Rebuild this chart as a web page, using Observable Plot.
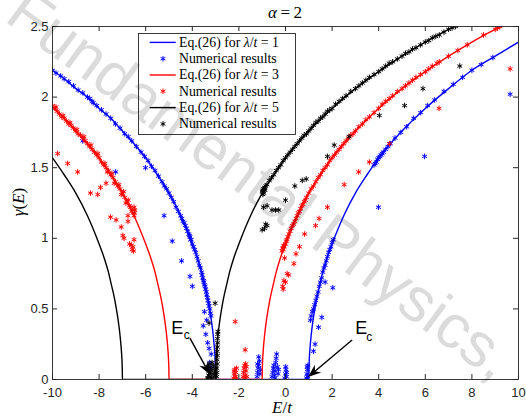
<!DOCTYPE html>
<html><head><meta charset="utf-8">
<script src="https://cdn.jsdelivr.net/npm/d3@7"></script>
<script src="https://cdn.jsdelivr.net/npm/@observablehq/plot@0.6"></script>
<style>
body{margin:0;background:#fff;}
#wrap{position:relative;width:526px;height:418px;overflow:hidden;background:#fff;}
.ov{position:absolute;white-space:nowrap;color:#000;}
.serif{font-family:"Liberation Serif","DejaVu Serif",serif;}
#wm{position:absolute;left:261px;top:184px;transform:translate(-50%,-50%) rotate(36.4deg);font-family:"Liberation Sans",Arial,sans-serif;font-size:62px;line-height:62px;color:rgba(0,0,0,0.14);white-space:nowrap;pointer-events:none;}
</style></head><body><div id="wrap"></div><script>
// ---- tick definitions ----
const xTicks = [-10, -8, -6, -4, -2, 0, 2, 4, 6, 8, 10];
const xTickLabels = ["-10", "-8", "-6", "-4", "-2", "0", "2", "4", "6", "8", "10"];
const yTicks = [0, 0.5, 1, 1.5, 2, 2.5];
const yTickLabels = ["0", "0.5", "1", "1.5", "2", "2.5"];

// ---- Eq.(26) curves [E/t, gamma] ----
const theoryL1 = [[-10,2.19],[-9.5,2.13],[-9,2.06],[-8.5,2.0],[-8,1.92],[-7.5,1.85],[-7,1.76],[-6.5,1.67],[-6,1.57],[-5.5,1.45],[-5,1.32],[-4.5,1.16],[-4,0.96],[-3.8,0.87],[-3.6,0.76],[-3.5,0.69],[-3.4,0.62],[-3.3,0.54],[-3.2,0.44],[-3.15,0.38],[-3.1,0.31],[-3.05,0.22],[-3.02,0.14],[-3.005,0.07],[-3,0],[1,0],[1.005,0.07],[1.02,0.14],[1.05,0.22],[1.1,0.31],[1.15,0.38],[1.2,0.44],[1.3,0.54],[1.4,0.62],[1.5,0.69],[1.6,0.76],[1.8,0.87],[2,0.96],[2.5,1.16],[3,1.32],[3.5,1.45],[4,1.57],[5,1.76],[6,1.92],[7,2.06],[8,2.19],[9,2.29],[10,2.39]];
const theoryL3 = [[-10,1.93],[-9.5,1.85],[-9,1.76],[-8.5,1.67],[-8,1.57],[-7.5,1.45],[-7,1.32],[-6.5,1.16],[-6,0.96],[-5.8,0.87],[-5.6,0.76],[-5.5,0.69],[-5.4,0.62],[-5.3,0.54],[-5.2,0.44],[-5.15,0.38],[-5.1,0.31],[-5.05,0.22],[-5.02,0.14],[-5.005,0.07],[-5,0],[-1,0],[-0.995,0.07],[-0.98,0.14],[-0.95,0.22],[-0.9,0.31],[-0.85,0.38],[-0.8,0.44],[-0.7,0.54],[-0.6,0.62],[-0.5,0.69],[-0.4,0.76],[-0.2,0.87],[0,0.96],[0.5,1.16],[1,1.32],[1.5,1.45],[2,1.57],[3,1.76],[4,1.92],[5,2.06],[6,2.18],[7,2.29],[8,2.39],[9,2.48],[9.5,2.52]];
const theoryL5 = [[-10,1.57],[-9.5,1.45],[-9,1.32],[-8.5,1.16],[-8,0.96],[-7.8,0.87],[-7.6,0.76],[-7.5,0.69],[-7.4,0.62],[-7.3,0.54],[-7.2,0.44],[-7.15,0.38],[-7.1,0.31],[-7.05,0.22],[-7.02,0.14],[-7.005,0.07],[-7,0],[-3,0],[-2.995,0.07],[-2.98,0.14],[-2.95,0.22],[-2.9,0.31],[-2.85,0.38],[-2.8,0.44],[-2.7,0.54],[-2.6,0.62],[-2.5,0.69],[-2.4,0.76],[-2.2,0.87],[-2,0.96],[-1.5,1.16],[-1,1.32],[-0.5,1.45],[0,1.57],[1,1.76],[2,1.92],[3,2.06],[4,2.18],[5,2.29],[6,2.39],[7,2.48],[7.5,2.52]];

// ---- numerical results [E/t, gamma] ----
const numL1 = [
[-10,2.19],[-9.85,2.17],[-9.65,2.15],[-9.5,2.13],[-9.3,2.11],[-9.1,2.08],[-8.9,2.05],[-8.7,2.03],[-8.5,2.0],[-8.4,1.99],[-8.3,1.97],[-8.25,1.96],[-8.1,1.94],[-7.9,1.91],[-7.7,1.88],[-7.5,1.85],[-7.3,1.81],[-7.1,1.78],[-6.9,1.74],[-6.75,1.72],[-6.6,1.69],[-6.4,1.65],[-6.2,1.61],[-6.05,1.58],[-5.9,1.55],[-5.75,1.51],[-5.6,1.48],[-5.45,1.44],[-5.3,1.40],[-5.2,1.37],[-5.1,1.35],[-5.0,1.32],[-4.9,1.29],[-4.8,1.26],[-4.7,1.22],[-4.6,1.19],[-4.5,1.16],[-4.45,1.14],[-4.4,1.12],[-4.35,1.11],[-4.3,1.09],[-4.25,1.07],[-4.2,1.05],[-4.15,1.03],[-4.12,1.02],[-4.1,1.01],[-4.07,0.99],[-4.05,0.99],[-4.0,0.96],[-3.95,0.94],[-3.9,0.92],[-3.85,0.90],[-3.8,0.87],[-3.75,0.84],[-3.7,0.81],[-3.65,0.79],[-3.6,0.76],[-3.58,0.74],[-3.55,0.72],[-3.52,0.70],[-3.5,0.69],[-3.48,0.67],[-3.45,0.66],[-3.43,0.64],[-3.4,0.62],[-3.38,0.60],[-3.35,0.58],[-3.33,0.56],[-3.3,0.54],[-3.28,0.52],[-3.25,0.50],[-3.22,0.47],[-3.2,0.45],
[-8.70,1.69],[-7.29,1.47],[-6.01,1.50],[-5.21,1.16],[-4.86,0.98],[-4.46,0.84],[-4.10,0.73],[-4.0,0.66],[-3.48,0.48],[-3.53,0.38],[-3.38,0.42],[-3.42,0.32],[-3.34,0.26],[-3.28,0.22],[-3.19,0.18],[-3.25,0.12],[-3.2,0.08],
[-1.22,0.02],[-1.2,0.05],[-1.18,0.08],[-1.15,0.1],[-1.12,0.13],[-1.15,0.16],[-1.1,0.04],[-1.08,0.07],[-1.2,0.11],
[-0.58,0.02],[-0.55,0.05],[-0.52,0.08],[-0.5,0.1],[-0.48,0.03],[-0.45,0.06],[-0.42,0.12],[-0.4,0.15],[-0.38,0.18],[-0.35,0.09],[-0.32,0.04],[-0.3,0.07],[-0.45,0.01],
[-0.03,0.01],[0,0.04],[0.02,0.07],[0.04,0.02],[0.01,0.09],[0.05,0.05],
[0.9,0.01],[0.92,0.04],[0.94,0.07],[0.96,0.1],[0.95,0.02],[0.93,0.09],
[1.07,0.42],[1.1,0.45],[1.15,0.48],[1.2,0.5],[1.25,0.53],[1.3,0.56],[1.35,0.59],[1.4,0.62],[1.45,0.66],[1.5,0.69],[1.55,0.72],[1.6,0.76],[1.65,0.79],[1.7,0.81],[1.75,0.84],[1.8,0.87],[1.85,0.90],[1.9,0.92],[1.95,0.94],[2.0,0.97],[2.05,0.99],
[1.2,0.2],[1.27,0.25],[1.42,0.37],[1.56,0.44],[1.70,0.69],[2.03,0.65],[3.99,1.22],[5.97,1.58],[9.64,2.02],
[3.8,1.52],[3.85,1.53],[3.9,1.54],[3.95,1.56],[4.0,1.57],[4.05,1.58],[4.1,1.59],[4.15,1.60],[4.2,1.61],[4.3,1.63],[4.4,1.65],[4.5,1.67],[4.7,1.71],[4.95,1.75],[5.2,1.79],[5.5,1.85],[5.8,1.89],[6.1,1.94],[6.4,1.98],[6.8,2.04],[7.2,2.09],[7.6,2.14],[8.0,2.19],[8.4,2.23],[8.9,2.28]
];
const numL3 = [
[-10,1.94],[-9.9,1.92],[-9.8,1.90],[-9.7,1.88],[-9.6,1.86],[-9.5,1.85],[-9.4,1.83],[-9.3,1.81],[-9.2,1.80],[-9.1,1.78],[-9.0,1.76],[-8.9,1.74],[-8.8,1.73],[-8.7,1.71],[-8.6,1.69],[-8.5,1.67],[-8.4,1.65],[-8.3,1.63],[-8.2,1.61],[-8.1,1.59],[-8.0,1.57],[-7.9,1.54],[-7.8,1.52],[-7.7,1.50],[-7.6,1.48],[-7.5,1.45],[-7.4,1.43],[-7.3,1.40],[-7.2,1.37],[-7.1,1.35],[-7.0,1.32],[-6.9,1.29],[-6.8,1.26],[-6.7,1.23],[-6.6,1.19],[-6.5,1.16],[-6.47,1.2],
[-9.85,1.93],[-9.55,1.87],[-9.25,1.82],[-8.95,1.77],[-8.65,1.72],[-8.35,1.66],[-8.05,1.60],[-7.75,1.53],[-7.65,1.47],[-7.45,1.46],[-7.35,1.39],[-7.15,1.38],[-7.05,1.31],[-6.95,1.33],[-6.85,1.25],[-6.75,1.27],[-6.65,1.22],[-6.55,1.2],[-6.5,1.22],[-6.48,1.18],
[-9.78,1.60],[-9.35,1.53],[-8.92,1.47],[-8.37,1.32],[-8.06,1.31],[-7.94,1.36],[-7.70,1.39],[-7.51,1.15],[-7.27,1.13],[-7.05,1.08],[-6.76,1.16],[-6.76,1.12],[-6.98,1.02],[-6.93,1.0],[-6.69,0.96],[-6.55,0.94],[-6.5,0.99],[-6.58,0.92],[-6.62,0.95],[-6.52,0.91],
[-2.16,0.41],[-1.73,0.21],
[-2.22,0.01],[-2.2,0.04],[-2.18,0.07],[-2.15,0.02],[-2.13,0.05],[-2.1,0.08],[-2.12,0.01],[-2.2,0.06],
[-1.82,0.02],[-1.8,0.05],[-1.78,0.08],[-1.75,0.1],[-1.73,0.03],[-1.7,0.06],[-1.68,0.09],[-1.66,0.02],[-1.75,0.01],[-1.71,0.11],
[-0.15,0.91],[-0.12,0.93],[-0.1,0.92],[-0.08,0.95],[-0.05,0.94],[0,0.96],[0.03,0.98],[0.06,0.99],[0.1,1.01],[0.15,1.03],[0.2,1.05],[0.25,1.07],[0.3,1.09],[0.35,1.10],[0.4,1.12],[0.45,1.14],[0.5,1.16],[0.55,1.18],[0.6,1.19],[0.65,1.21],[0.7,1.23],[0.75,1.24],[0.8,1.26],[0.85,1.27],[0.9,1.29],[1.0,1.32],[1.1,1.35],[1.2,1.37],[1.3,1.40],[1.4,1.43],[1.5,1.45],[1.6,1.48],[1.7,1.50],[1.8,1.52],[1.9,1.55],[2.0,1.57],[2.1,1.59],[2.2,1.61],[2.3,1.63],[2.4,1.65],[2.5,1.67],[2.6,1.69],[2.7,1.71],[2.8,1.73],[2.9,1.74],[3.0,1.76],[3.15,1.79],[3.3,1.81],[3.45,1.84],[3.6,1.86],[3.8,1.89],[4.0,1.92],[4.15,1.95],[4.3,1.97],[4.45,1.99],[4.6,2.01],[4.8,2.04],[5.0,2.06],[5.15,2.08],[5.3,2.10],[5.45,2.12],[5.6,2.14],[5.8,2.16],[6.0,2.18],[6.15,2.20],[6.3,2.22],[6.5,2.24],[6.6,2.25],[7.0,2.29],[7.4,2.33],[7.8,2.37],[8.5,2.44],[9.0,2.48],[9.1,2.49],[9.2,2.50],
[-0.12,0.66],[-0.07,0.70],[-0.1,0.64],[0.0,0.69],[-0.04,0.86],[0.07,0.75],[0.14,0.74],[0.36,0.82],[0.45,0.89],[0.60,0.94],[0.82,1.03],[1.29,1.09],[1.44,1.14],[1.80,1.22],[2.52,1.38],[3.14,1.47],[3.6,1.54],[4.46,1.67],[6.59,1.92],[9.64,2.20]
];
const numL5 = [
[-3.35,0.01],[-3.3,0.03],[-3.28,0.06],[-3.25,0.02],[-3.22,0.05],[-3.2,0.08],[-3.18,0.01],[-3.15,0.04],[-3.12,0.07],[-3.1,0.1],[-3.08,0.02],[-3.05,0.05],[-3.3,0.09],[-3.25,0.11],[-3.15,0.12],[-3.02,0.08],[-3.0,0.03],
[-2.96,0.02],[-2.94,0.05],[-2.95,0.08],[-2.93,0.11],[-2.94,0.14],[-2.92,0.17],[-2.93,0.2],[-2.92,0.23],[-2.91,0.26],[-2.92,0.29],[-2.91,0.32],[-2.9,0.34],
[-3.02,0.54],[-3.28,0.40],
[-1.0,1.33],[-0.98,1.34],[-0.95,1.35],[-0.92,1.35],[-0.9,1.36],[-0.85,1.37],[-0.8,1.38],[-0.7,1.41],[-0.6,1.43],[-0.5,1.45],[-0.4,1.48],[-0.3,1.50],[-0.2,1.52],[-0.1,1.55],[0,1.57],[0.1,1.59],[0.2,1.61],[0.3,1.63],[0.4,1.65],[0.5,1.67],[0.6,1.69],[0.7,1.71],[0.8,1.73],[0.9,1.74],[1.0,1.76],[1.1,1.78],[1.2,1.80],[1.3,1.82],[1.4,1.83],[1.5,1.85],[1.6,1.86],[1.7,1.88],[1.8,1.90],[1.9,1.91],[2.0,1.92],[2.15,1.95],[2.3,1.97],[2.45,1.99],[2.6,2.01],[2.8,2.04],[3.0,2.06],[3.15,2.08],[3.3,2.10],[3.45,2.12],[3.6,2.14],[3.8,2.16],[4.0,2.18],[4.15,2.20],[4.3,2.22],[4.45,2.24],[4.6,2.25],[4.8,2.27],[5.0,2.29],[5.15,2.31],[5.3,2.32],[5.45,2.34],[5.6,2.35],[5.8,2.37],[6.0,2.39],[6.15,2.40],[6.3,2.42],[6.45,2.43],[6.6,2.44],[6.8,2.46],[7.0,2.48],[7.15,2.49],[7.3,2.50],
[-0.97,1.31],[-0.93,1.32],[-0.88,1.34],
[-1.0,1.06],[-0.79,1.09],[-0.94,1.22],[-0.79,1.23],[-0.58,1.20],[-0.29,1.20],[-0.43,1.2],[0,1.27],[0.40,1.37],[0.72,1.41],[0.89,1.42],[1.80,1.58],[2.09,1.66],[2.73,1.72],[4.03,1.87],[5.11,1.94],[5.9,2.06],[7.48,2.22],[-0.85,1.1],[-0.9,1.07]
];

// ---- series styling / legend ----
const seriesColors = ["#0000ff", "#ff0000", "#000000"];
const lambdaValues = [1, 3, 5];

// ---- annotations (data coordinates) ----
const ecArrows = [
  {x1: -4.08, y1: 0.29, x2: -3.22, y2: 0.03, ex: -4.62, ey: 0.36, cx: -4.22, cy: 0.31},
  {x1: 2.88, y1: 0.276, x2: 0.99, y2: 0.014, ex: 3.27, ey: 0.36, cx: 3.62, cy: 0.30}
];

const fx = d => d[0], fy = d => d[1];
const theories = [theoryL1, theoryL3, theoryL5];
const nums = [numL1, numL3, numL5];
const marks = [];
theories.forEach((t, i) => {
  marks.push(Plot.line(t, {x: fx, y: fy, stroke: seriesColors[i], strokeWidth: 1.4, curve: "monotone-x", clip: true}));
  marks.push(Plot.dot(nums[i], {x: fx, y: fy, symbol: "asterisk", r: 2.6, stroke: seriesColors[i], strokeWidth: 1, clip: true}));
});

const plot = Plot.plot({
  width: 526, height: 418,
  marginTop: 26, marginRight: 8, marginBottom: 39, marginLeft: 52,
  style: {background: "transparent", fontFamily: "'Liberation Sans', Arial, sans-serif", fontSize: "13px", color: "#262626", overflow: "visible"},
  x: {domain: [-10, 10], axis: null},
  y: {domain: [0, 2.5], axis: null},
  marks: [
    ...marks,
    Plot.axisX(xTicks, {tickSize: 0, tickPadding: 8, tickFormat: d => xTickLabels[xTicks.indexOf(d)], label: null, fontSize: 13}),
    Plot.axisY(yTicks, {tickSize: 0, tickPadding: 4, tickFormat: d => yTickLabels[yTicks.indexOf(d)], label: null, fontSize: 13}),
    Plot.tickX(xTicks, {x: d => d, insetTop: 348, stroke: "#262626"}),
    Plot.tickX(xTicks, {x: d => d, insetBottom: 348, stroke: "#262626"}),
    Plot.tickY(yTicks, {y: d => d, insetRight: 461, stroke: "#262626"}),
    Plot.tickY(yTicks, {y: d => d, insetLeft: 461, stroke: "#262626"}),
    Plot.frame({stroke: "#262626", strokeWidth: 0.9})
  ]
});

const wrap = document.getElementById("wrap");
wrap.appendChild(plot);

// annotations via the plot's scales
const sx = plot.scale("x"), sy = plot.scale("y");
const svg = d3.select(plot);
const ga = svg.append("g");
ecArrows.forEach(a => {
  const x1 = sx.apply(a.x1), y1 = sy.apply(a.y1), x2 = sx.apply(a.x2), y2 = sy.apply(a.y2);
  const dx = x2 - x1, dy = y2 - y1, len = Math.hypot(dx, dy);
  const ux = dx / len, uy = dy / len, nx = -uy, ny = ux;
  const L = 13, W = 5, N = 9;
  const bx = x2 - ux * L, by = y2 - uy * L;
  const mx = x2 - ux * N, my = y2 - uy * N;
  ga.append("line").attr("x1", x1).attr("y1", y1).attr("x2", mx).attr("y2", my).attr("stroke", "#000").attr("stroke-width", 1.4);
  ga.append("polygon").attr("points", [[x2, y2], [bx + nx * W, by + ny * W], [mx, my], [bx - nx * W, by - ny * W]].map(p => p.join(",")).join(" ")).attr("fill", "#000");
  ga.append("text").attr("x", sx.apply(a.ex)).attr("y", sy.apply(a.ey)).attr("text-anchor", "middle").attr("dominant-baseline", "central").attr("font-size", 18).attr("fill", "#000").text("E");
  ga.append("text").attr("x", sx.apply(a.cx)).attr("y", sy.apply(a.cy)).attr("text-anchor", "middle").attr("dominant-baseline", "central").attr("font-size", 12).attr("fill", "#000").text("c");
});

// title & axis labels
const title = document.createElement("div");
title.className = "ov serif";
title.style.cssText = "left:185px;width:200px;top:4px;text-align:center;font-size:17px;line-height:17px;";
title.innerHTML = "<i>α</i>&#8201;=&#8201;2";
wrap.appendChild(title);

const xl = document.createElement("div");
xl.className = "ov serif";
xl.style.cssText = "left:182px;width:200px;top:399px;text-align:center;font-size:17px;line-height:17px;";
xl.innerHTML = "<i>E</i>/<i>t</i>";
wrap.appendChild(xl);

const yl = document.createElement("div");
yl.className = "ov serif";
yl.style.cssText = "left:18px;top:202px;transform:translate(-50%,-50%) rotate(-90deg);font-size:17px;line-height:17px;";
yl.innerHTML = "<i>γ</i>(<i>E</i>)";
wrap.appendChild(yl);

// legend
const leg = d3.select(wrap).append("svg")
  .attr("width", 159).attr("height", 103)
  .style("position", "absolute").style("left", "138px").style("top", "33px");
leg.append("rect").attr("x", 0.5).attr("y", 0.5).attr("width", 157).attr("height", 101).attr("fill", "#fff").attr("stroke", "#262626").attr("stroke-width", 0.9);
const rowY = [9.4, 25.7, 42, 58.3, 74.6, 90.9];
const star = d3.symbol(d3.symbolAsterisk, Math.PI * 2.6 * 2.6)();
lambdaValues.forEach((lam, i) => {
  const yL = rowY[2 * i], yS = rowY[2 * i + 1];
  leg.append("line").attr("x1", 11.7).attr("x2", 37.7).attr("y1", yL).attr("y2", yL).attr("stroke", seriesColors[i]).attr("stroke-width", 1.4);
  leg.append("path").attr("d", star).attr("transform", `translate(25,${yS})`).attr("fill", "none").attr("stroke", seriesColors[i]);
  const t1 = leg.append("text").attr("x", 41).attr("y", yL + 4.4).attr("font-family", "'Liberation Serif','DejaVu Serif',serif").attr("font-size", 13.8).attr("fill", "#000");
  t1.append("tspan").text("Eq.(26) for ");
  t1.append("tspan").attr("font-style", "italic").text("λ");
  t1.append("tspan").text("/");
  t1.append("tspan").attr("font-style", "italic").text("t");
  t1.append("tspan").text(" = " + lam);
  leg.append("text").attr("x", 41).attr("y", yS + 4.4).attr("font-family", "'Liberation Serif','DejaVu Serif',serif").attr("font-size", 13.8).attr("fill", "#000").text("Numerical results");
});

// watermark
const wm = document.createElement("div");
wm.id = "wm";
wm.textContent = "Fundamental Physics,";
wrap.appendChild(wm);
</script></body></html>
